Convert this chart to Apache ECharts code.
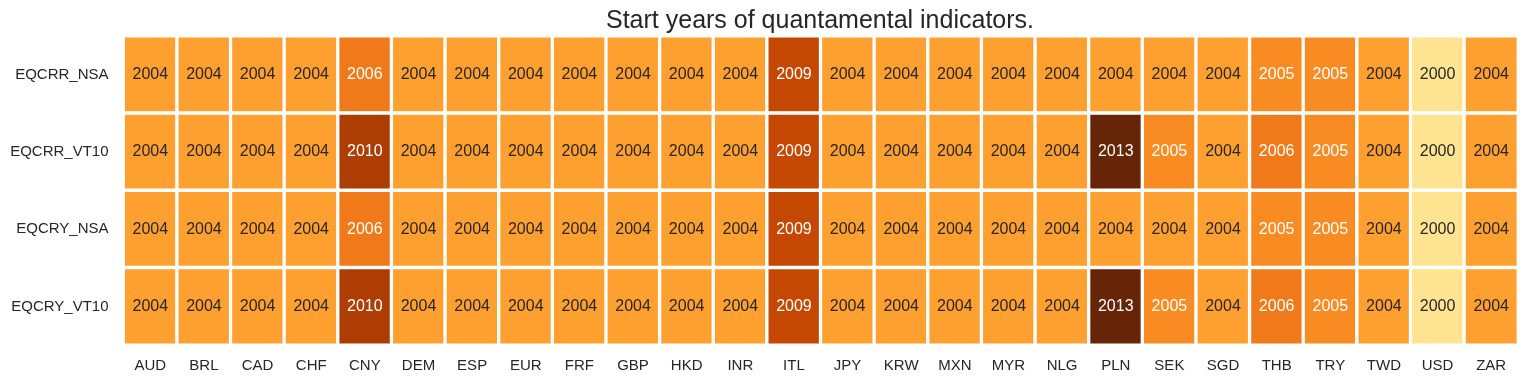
<!DOCTYPE html>
<html><head><meta charset="utf-8">
<script src="https://cdn.jsdelivr.net/npm/echarts@6/dist/echarts.min.js"></script>
<style>html,body{margin:0;padding:0;background:#fff}#c{width:1528px;height:381px}</style>
</head><body><div id="c"></div>
<script>
const columns = ["AUD","BRL","CAD","CHF","CNY","DEM","ESP","EUR","FRF","GBP","HKD","INR","ITL","JPY","KRW","MXN","MYR","NLG","PLN","SEK","SGD","THB","TRY","TWD","USD","ZAR"];
const rows = ["EQCRR_NSA","EQCRR_VT10","EQCRY_NSA","EQCRY_VT10"];
const EQCRR_NSA  = [2004,2004,2004,2004,2006,2004,2004,2004,2004,2004,2004,2004,2009,2004,2004,2004,2004,2004,2004,2004,2004,2005,2005,2004,2000,2004];
const EQCRR_VT10 = [2004,2004,2004,2004,2010,2004,2004,2004,2004,2004,2004,2004,2009,2004,2004,2004,2004,2004,2013,2005,2004,2006,2005,2004,2000,2004];
const EQCRY_NSA  = [2004,2004,2004,2004,2006,2004,2004,2004,2004,2004,2004,2004,2009,2004,2004,2004,2004,2004,2004,2004,2004,2005,2005,2004,2000,2004];
const EQCRY_VT10 = [2004,2004,2004,2004,2010,2004,2004,2004,2004,2004,2004,2004,2009,2004,2004,2004,2004,2004,2013,2005,2004,2006,2005,2004,2000,2004];
const values = [EQCRR_NSA, EQCRR_VT10, EQCRY_NSA, EQCRY_VT10];

const data = [];
values.forEach((arr, r) => arr.forEach((v, c) => {
  data.push({value: [c, r, v], label: {color: v >= 2005 ? '#ffffff' : '#262626'}});
}));

const F = 'Liberation Sans, Arial, sans-serif';
const chart = echarts.init(document.getElementById('c'));
chart.setOption({
  animation: false,
  backgroundColor: '#fff',
  title: {text: 'Start years of quantamental indicators.', left: 815, top: 4, textAlign: 'center',
    textStyle: {fontFamily: F, fontSize: 25, fontWeight: 'normal', color: '#262626'}},
  grid: {left: 123.5, right: 10, top: 36, bottom: 36},
  xAxis: {type: 'category', data: columns, axisLine: {show: false}, axisTick: {show: false}, splitLine: {show: false},
    axisLabel: {color: '#262626', fontSize: 15, fontFamily: F, margin: 13}},
  yAxis: {type: 'category', data: rows, inverse: true, axisLine: {show: false}, axisTick: {show: false}, splitLine: {show: false},
    axisLabel: {color: '#262626', fontSize: 15, fontFamily: F, margin: 15}},
  visualMap: {show: false, type: 'continuous', min: 2000, max: 2013, dimension: 2,
    inRange: {color: ['#fee391','#fec44f','#fe9929','#ec7014','#cc4c02','#993404','#662506']}},
  series: [{type: 'heatmap', data: data,
    itemStyle: {borderColor: '#ffffff', borderWidth: 3.3},
    label: {show: true, fontSize: 16, fontFamily: F, formatter: p => p.value[2]}}]
});
</script></body></html>
